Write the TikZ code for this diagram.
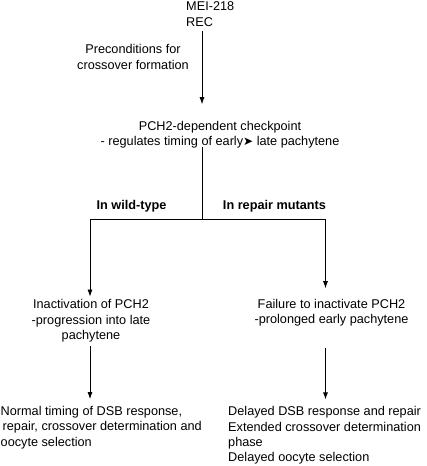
\documentclass[tikz,border=0pt]{standalone}
\usepackage{fontspec}
\setmainfont{Liberation Sans}
\newfontfamily\symfont{DejaVu Sans}
\usetikzlibrary{arrows.meta}
\begin{document}
\begin{tikzpicture}[x=1pt,y=-1pt,
  txt/.style={inner sep=0pt,font=\fontsize{12.7}{15.3}\selectfont},
  ctxt/.style={txt,align=center},
  ltxt/.style={txt,align=left},
  btxt/.style={txt,font=\fontsize{12.7}{15.3}\selectfont\bfseries},
  conn/.style={line width=0.8pt,black},
  arr/.style={conn,-{Latex[length=7pt,width=5pt]}}]
\useasboundingbox (0,0) rectangle (427,466);
\node[ltxt,anchor=west] (mei) at (186,14) {MEI-218\\REC};
\node[ctxt] (pre) at (133,57) {Preconditions for\\crossover formation};
\node[ctxt] (pch) at (220,135) {PCH2-dependent checkpoint\\- regulates timing of early{\symfont\fontsize{12}{12}\selectfont➤} late pachytene};
\node[btxt] (wt) at (131.5,206) {In wild-type};
\node[btxt] (rm) at (274.5,206) {In repair mutants};
\node[ctxt] (inact) at (91,321) {Inactivation of PCH2\\-progression into late\\pachytene};
\node[ctxt] (fail) at (331.5,313) {Failure to inactivate PCH2\\-prolonged early pachytene};
\node[ltxt,anchor=west] (normal) at (0.5,427.5) {Normal timing of DSB response,\\\hspace{2pt}repair, crossover determination and\\oocyte selection};
\node[ltxt,anchor=west] (delayed) at (228,435.5) {Delayed DSB response and repair\\Extended crossover determination\\phase\\Delayed oocyte selection};
\coordinate (top) at (202,31);
\coordinate (split) at (202,219);
\coordinate (L) at (90,219);
\coordinate (R) at (325.5,219);
\draw[arr,shorten >=17pt] (top) -- (top |- pch.north);
\draw[conn] ([yshift=2pt]pch.south -| split) -- (split);
\draw[conn] (L) -- (R);
\draw[arr,shorten >=3pt] (L) -- (L |- inact.north);
\draw[arr,shorten >=11pt] (R) -- (R |- fail.north);
\draw[arr,shorten <=4pt,shorten >=7pt] (inact.south -| L) -- (L |- normal.north);
\draw[arr,shorten <=21pt,shorten >=7pt] (fail.south -| R) -- (R |- delayed.north);
\end{tikzpicture}
\end{document}
